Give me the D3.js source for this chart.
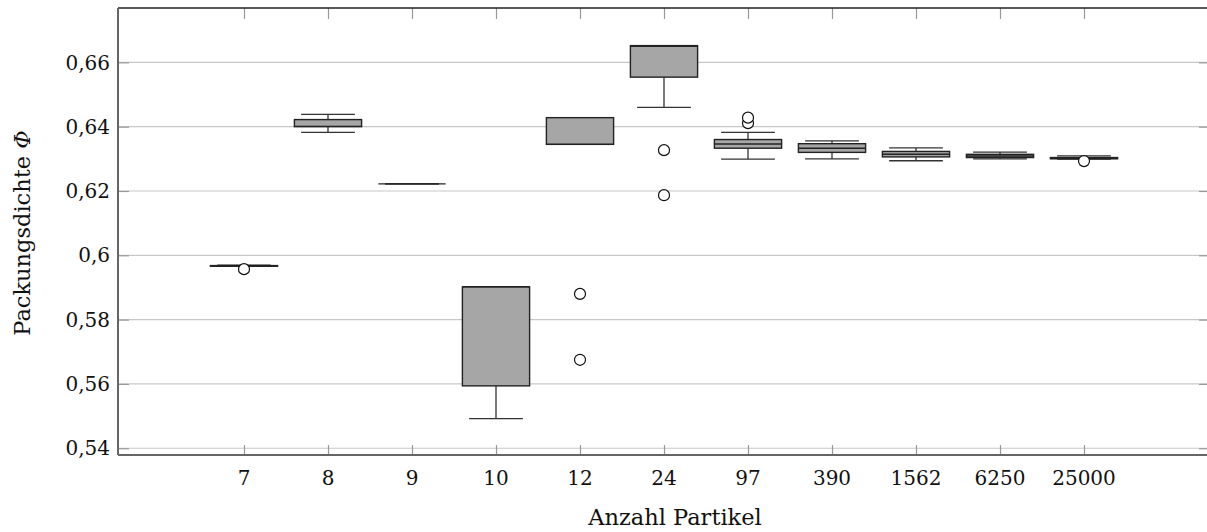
<!DOCTYPE html>
<html><head><meta charset="utf-8">
<script src="https://cdn.jsdelivr.net/npm/d3@7"></script>
<style>body{margin:0;background:#fff}svg{display:block}</style>
</head><body>
<svg id="c" width="1207" height="532"></svg>
<script>
const categories = ["7","8","9","10","12","24","97","390","1562","6250","25000"];
const whiskerLow = [0.5966,0.6382,0.6222,0.5492,0.6345,0.6460,0.6299,0.6300,0.6294,0.6300,0.6299];
const q1         = [0.5966,0.6400,0.6222,0.5594,0.6345,0.6554,0.6333,0.6320,0.6306,0.6304,0.6300];
const median     = [0.5967,0.6401,0.6222,0.5902,0.6345,0.6650,0.6346,0.6333,0.6314,0.6309,0.6302];
const q3         = [0.5968,0.6422,0.6222,0.5902,0.6428,0.6652,0.6360,0.6347,0.6323,0.6314,0.6304];
const whiskerHigh= [0.5969,0.6438,0.6222,0.5902,0.6428,0.6652,0.6382,0.6356,0.6334,0.6321,0.6309];
const outliers   = [[0.5957],[],[],[],[0.588,0.5675],[0.6327,0.6187],[0.6411,0.6428],[],[],[],[0.6293]];
const yTicks = [0.54,0.56,0.58,0.6,0.62,0.64,0.66];
const yTickLabels = ["0,54","0,56","0,58","0,6","0,62","0,64","0,66"];
const xLabel = "Anzahl Partikel";
const yLabel = "Packungsdichte ";
const yLabelSym = "Φ";

const L=118, R=1210, T=8, B=455;
const svg = d3.select("#c");
const font = "'DejaVu Serif', 'Liberation Serif', serif";
const fs = 20, lfs = 22.5;
const x = d3.scaleLinear().domain([-0.5,12.5]).range([L,R]);
const y = d3.scaleLinear().domain([0.5379,0.6769]).range([B,T]);
const bw = 0.8, cw = 0.64;

// grid
svg.append("g").selectAll("line").data(yTicks).join("line")
  .attr("x1",L).attr("x2",R).attr("y1",d=>y(d)).attr("y2",d=>y(d))
  .attr("stroke","#c8c8c8").attr("stroke-width",1.2);

// y axis left
const ya = svg.append("g").attr("transform",`translate(${L},0)`)
  .call(d3.axisRight(y).tickValues(yTicks).tickSize(11).tickFormat(""));
ya.select(".domain").remove();
ya.selectAll("line").attr("stroke","#999").attr("stroke-width",1.2);
svg.append("g").selectAll("text").data(yTicks).join("text")
  .attr("x",L-8).attr("y",d=>y(d)).attr("dy","0.36em").attr("text-anchor","end")
  .attr("font-family",font).attr("font-size",fs).attr("fill","#111")
  .text((d,i)=>yTickLabels[i]);
// right ticks
const yr = svg.append("g").attr("transform",`translate(${R},0)`)
  .call(d3.axisLeft(y).tickValues(yTicks).tickSize(11).tickFormat(""));
yr.select(".domain").remove();
yr.selectAll("line").attr("stroke","#999").attr("stroke-width",1.2);

// x axis ticks bottom and top
const pos = categories.map((c,i)=>i+1);
const xb = svg.append("g").attr("transform",`translate(0,${B})`)
  .call(d3.axisTop(x).tickValues(pos).tickSize(10).tickFormat(""));
xb.select(".domain").remove();
xb.selectAll("line").attr("stroke","#999").attr("stroke-width",1.2);
const xt = svg.append("g").attr("transform",`translate(0,${T})`)
  .call(d3.axisBottom(x).tickValues(pos).tickSize(11).tickFormat(""));
xt.select(".domain").remove();
xt.selectAll("line").attr("stroke","#999").attr("stroke-width",1.2);
svg.append("g").selectAll("text").data(categories).join("text")
  .attr("x",(d,i)=>x(i+1)).attr("y",B+30).attr("text-anchor","middle")
  .attr("font-family",font).attr("font-size",fs).attr("fill","#111").text(d=>d);

// frame
svg.append("line").attr("x1",L).attr("x2",R).attr("y1",T).attr("y2",T).attr("stroke","#222").attr("stroke-width",1.5);
svg.append("line").attr("x1",L).attr("x2",L).attr("y1",T).attr("y2",B).attr("stroke","#666").attr("stroke-width",2);
svg.append("line").attr("x1",L).attr("x2",R).attr("y1",B).attr("y2",B).attr("stroke","#666").attr("stroke-width",2);

// boxes
const g = svg.append("g");
categories.forEach((c,i)=>{
  const p=i+1;
  const gx=g.append("g");
  gx.append("line").attr("x1",x(p)).attr("x2",x(p)).attr("y1",y(whiskerLow[i])).attr("y2",y(q1[i])).attr("stroke","#333").attr("stroke-width",1.3);
  gx.append("line").attr("x1",x(p)).attr("x2",x(p)).attr("y1",y(q3[i])).attr("y2",y(whiskerHigh[i])).attr("stroke","#333").attr("stroke-width",1.3);
  gx.append("line").attr("x1",x(p-cw/2)).attr("x2",x(p+cw/2)).attr("y1",y(whiskerLow[i])).attr("y2",y(whiskerLow[i])).attr("stroke","#333").attr("stroke-width",1.3);
  gx.append("line").attr("x1",x(p-cw/2)).attr("x2",x(p+cw/2)).attr("y1",y(whiskerHigh[i])).attr("y2",y(whiskerHigh[i])).attr("stroke","#333").attr("stroke-width",1.3);
  gx.append("rect").attr("x",x(p-bw/2)).attr("width",x(p+bw/2)-x(p-bw/2))
    .attr("y",y(q3[i])).attr("height",Math.max(0,y(q1[i])-y(q3[i])))
    .attr("fill","#a6a6a6").attr("stroke","#222").attr("stroke-width",1.4);
  gx.append("line").attr("x1",x(p-bw/2)).attr("x2",x(p+bw/2)).attr("y1",y(median[i])).attr("y2",y(median[i])).attr("stroke","#222").attr("stroke-width",1.4);
  outliers[i].forEach(v=>{
    gx.append("circle").attr("cx",x(p)).attr("cy",y(v)).attr("r",5.5)
      .attr("fill","#fff").attr("stroke","#111").attr("stroke-width",1.2);
  });
});

// axis labels
svg.append("text").attr("x",675).attr("y",525).attr("text-anchor","middle")
  .attr("font-family",font).attr("font-size",lfs).attr("fill","#111").text(xLabel);
const yl = svg.append("text").attr("transform",`translate(30,233) rotate(-90)`)
  .attr("text-anchor","middle").attr("font-family",font).attr("font-size",lfs).attr("fill","#111");
yl.append("tspan").text(yLabel);
yl.append("tspan").attr("font-style","italic").text(yLabelSym);
</script>
</body></html>
